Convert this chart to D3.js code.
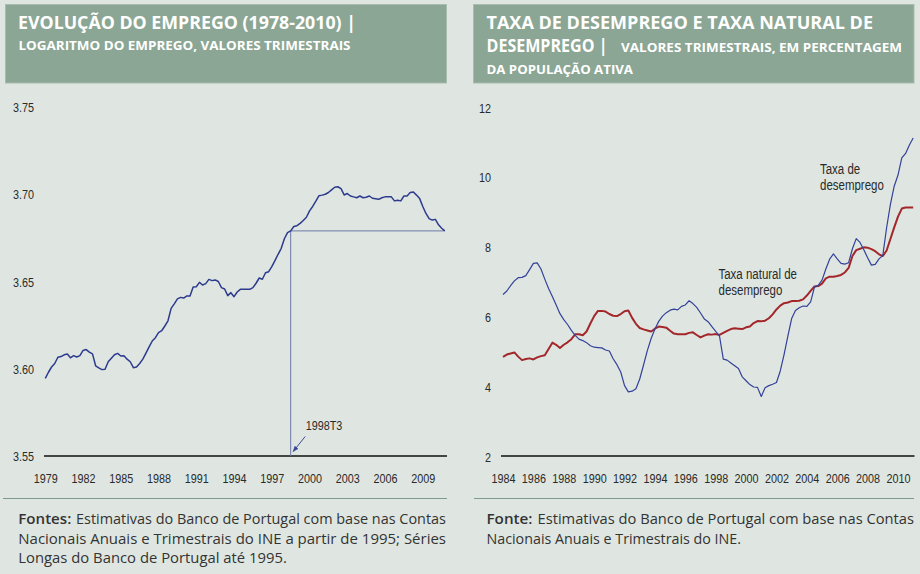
<!DOCTYPE html>
<html>
<head>
<meta charset="utf-8">
<script src="https://cdn.jsdelivr.net/npm/d3@7"></script>
<style>
  html, body { margin: 0; padding: 0; background: #dfe6e1; }
  svg { display: block; }
  .narrow { font-family: "Liberation Sans Narrow", "Arial Narrow", "Liberation Sans", Arial, sans-serif; }
  .hdr { font-family: "Open Sans", "Noto Sans", sans-serif; font-weight: 700; fill: #ffffff; }
  .foot { font-family: "Open Sans", "Noto Sans", sans-serif; fill: #333333; }
</style>
</head>
<body>
<script>
// ---------------- DATA ----------------
// Left chart: log of employment, quarterly, 1979T1 - 2010T4
const empStart = 1979;
const empLog = [
  3.5945, 3.598, 3.601, 3.603,
  3.6066, 3.607, 3.608, 3.6085,
  3.6063, 3.6075, 3.6067, 3.6075,
  3.6105, 3.611, 3.6095, 3.6085,
  3.6017, 3.6005, 3.5995, 3.5997,
  3.604, 3.606, 3.608, 3.6088,
  3.6073, 3.6075, 3.6055, 3.604,
  3.6006, 3.601, 3.603, 3.6055,
  3.609, 3.6125, 3.6159, 3.6178,
  3.6207, 3.6218, 3.6245, 3.6275,
  3.6346, 3.6372, 3.640, 3.6409,
  3.6405, 3.6417, 3.6417, 3.6468,
  3.647, 3.6495, 3.648, 3.6488,
  3.6512, 3.6505, 3.6509, 3.650,
  3.6465, 3.6457, 3.6419, 3.6436,
  3.6413, 3.644, 3.6455, 3.6455,
  3.6455, 3.6455, 3.6465, 3.649,
  3.652, 3.6513, 3.655, 3.6556,
  3.6585, 3.662, 3.6656, 3.669,
  3.6745, 3.678, 3.679, 3.6815,
  3.682, 3.6833, 3.685, 3.6868,
  3.6905, 3.693, 3.696, 3.6992,
  3.6995, 3.700, 3.701, 3.7025,
  3.704, 3.7043, 3.7032, 3.6996,
  3.7004, 3.699, 3.6985, 3.698,
  3.699, 3.698, 3.6983, 3.699,
  3.6977, 3.6974, 3.6971, 3.698,
  3.6985, 3.6986, 3.6985, 3.6962,
  3.6966, 3.6962, 3.699, 3.699,
  3.701, 3.7013, 3.6995, 3.6975,
  3.693, 3.689, 3.686, 3.6852,
  3.6856, 3.6825, 3.6805, 3.679
];
const empBreakYear = 1998.5;       // 1998T3
const empBreakLabel = "1998T3";
const empYTicks = [3.55, 3.60, 3.65, 3.70, 3.75];
const empXTicks = [1979, 1982, 1985, 1988, 1991, 1994, 1997, 2000, 2003, 2006, 2009];

// Right chart: unemployment rate and natural rate, quarterly, 1984T1 - 2011T1
const urStart = 1984;
const unempRate = [
  6.64, 6.74, 6.89, 7.03,
  7.12, 7.13, 7.18, 7.35,
  7.53, 7.545, 7.37, 7.08,
  6.81, 6.58, 6.34, 6.09,
  5.92, 5.78, 5.61, 5.47,
  5.36, 5.32, 5.26, 5.17,
  5.13, 5.12, 5.11, 5.05,
  5.02, 4.80, 4.63, 4.42,
  4.03, 3.85, 3.87, 3.94,
  4.22, 4.62, 5.03, 5.38,
  5.65, 5.87, 6.02, 6.12,
  6.19, 6.22, 6.20, 6.30,
  6.34, 6.46, 6.38, 6.27,
  6.11, 5.94, 5.86, 5.72,
  5.58, 5.45, 4.79, 4.76,
  4.68, 4.60, 4.52, 4.28,
  4.17, 4.06, 3.99, 3.98,
  3.72, 3.97, 4.03, 4.07,
  4.12, 4.45, 4.92, 5.45,
  5.95, 6.18, 6.26, 6.31,
  6.30, 6.43, 6.85, 6.90,
  7.05, 7.37, 7.65, 7.80,
  7.66, 7.53, 7.51, 7.55,
  7.95, 8.24, 8.13, 7.92,
  7.69, 7.48, 7.50, 7.66,
  7.76, 8.55, 9.22, 9.74,
  10.06, 10.55, 10.68, 10.92,
  11.12
];
const naturalRate = [
  4.855, 4.92, 4.95, 4.98,
  4.86, 4.76, 4.79, 4.81,
  4.78, 4.84, 4.875, 4.90,
  5.08, 5.26, 5.20, 5.11,
  5.20, 5.27, 5.36, 5.50,
  5.50, 5.47, 5.58, 5.81,
  6.02, 6.17, 6.17, 6.15,
  6.08, 6.03, 6.02, 6.08,
  6.16, 6.18, 5.97, 5.80,
  5.68, 5.64, 5.61, 5.58,
  5.66, 5.72, 5.71, 5.69,
  5.60, 5.52, 5.50, 5.50,
  5.50, 5.54, 5.555, 5.48,
  5.41, 5.46, 5.50, 5.49,
  5.505, 5.48, 5.54, 5.60,
  5.65, 5.67, 5.66, 5.65,
  5.70, 5.72, 5.82, 5.88,
  5.87, 5.89, 5.96, 6.07,
  6.21, 6.32, 6.39, 6.41,
  6.45, 6.45, 6.46, 6.50,
  6.61, 6.74, 6.87, 6.88,
  6.95, 7.10, 7.15, 7.15,
  7.17, 7.20, 7.27, 7.40,
  7.74, 7.91, 7.95, 7.99,
  7.98, 7.94, 7.88, 7.79,
  7.74, 7.90, 8.23, 8.56,
  8.87, 9.10, 9.13, 9.13,
  9.13
];
const urYTicks = [2, 4, 6, 8, 10, 12];
const urXTicks = [1984, 1986, 1988, 1990, 1992, 1994, 1996, 1998, 2000, 2002, 2004, 2006, 2008, 2010];
const labelUnemp = ["Taxa de", "desemprego"];
const labelNatural = ["Taxa natural de", "desemprego"];

// ---------------- DRAW ----------------
const W = 920, H = 574;
const svg = d3.select("body").append("svg").attr("width", W).attr("height", H);
svg.append("rect").attr("width", W).attr("height", H).attr("fill", "#dfe6e1");

const HEADER_FILL = "#8ba694";
const GREEN_TXT = "#4e7a5b";
const NARROW = 0.8;
const TXT = "#2a2a2a";

function fitText(sel, len) {
  sel.attr("textLength", len).attr("lengthAdjust", "spacingAndGlyphs");
  return sel;
}
// condense text horizontally (narrow font look)
function condense(sel, factor) {
  sel.each(function () {
    const L = this.getComputedTextLength();
    d3.select(this).attr("textLength", L * factor).attr("lengthAdjust", "spacingAndGlyphs");
  });
  return sel;
}

// Headers
svg.append("rect").attr("x", 5.5).attr("y", 4.5).attr("width", 441).attr("height", 78.5)
  .attr("fill", HEADER_FILL).attr("stroke", "#a7bcad").attr("stroke-width", 1);
svg.append("rect").attr("x", 473.5).attr("y", 4.5).attr("width", 440.5).attr("height", 78.5)
  .attr("fill", HEADER_FILL).attr("stroke", "#a7bcad").attr("stroke-width", 1);

fitText(svg.append("text").attr("class", "hdr").attr("x", 18).attr("y", 28.5)
  .attr("font-size", 18).text("EVOLUÇÃO DO EMPREGO (1978-2010) |"), 338);
fitText(svg.append("text").attr("class", "hdr").attr("x", 18.5).attr("y", 50)
  .attr("font-size", 12).text("LOGARITMO DO EMPREGO, VALORES TRIMESTRAIS"), 332);

fitText(svg.append("text").attr("class", "hdr").attr("x", 486.5).attr("y", 28.5)
  .attr("font-size", 18).text("TAXA DE DESEMPREGO E TAXA NATURAL DE"), 386.5);
fitText(svg.append("text").attr("class", "hdr").attr("x", 486.5).attr("y", 51.5)
  .attr("font-size", 18).text("DESEMPREGO |"), 121);
fitText(svg.append("text").attr("class", "hdr").attr("x", 621).attr("y", 51.5)
  .attr("font-size", 12).text("VALORES TRIMESTRAIS, EM PERCENTAGEM"), 281);
fitText(svg.append("text").attr("class", "hdr").attr("x", 486.5).attr("y", 73.5)
  .attr("font-size", 12).text("DA POPULAÇÃO ATIVA"), 146.5);

// ---------- Left chart ----------
const xL = d3.scaleLinear().domain([1979, 2009]).range([45.3, 422.8]);
const yL = d3.scaleLinear().domain([3.55, 3.75]).range([456, 107]);
const empData = empLog.map((v, i) => ({ t: empStart + i / 4, v }));

// y labels
svg.append("g").attr("transform", "translate(34,0)")
  .call(d3.axisLeft(yL).tickValues(empYTicks).tickFormat(d3.format(".2f")).tickSize(0).tickPadding(0))
  .call(g => g.select(".domain").remove())
  .call(g => condense(g.selectAll("text").attr("class", "narrow").attr("font-size", 13.5).attr("fill", TXT).attr("dy", "0.35em"), NARROW));

// x labels
svg.append("g").attr("transform", "translate(0,456)")
  .call(d3.axisBottom(xL).tickValues(empXTicks).tickFormat(d3.format("d")).tickSize(0).tickPadding(0))
  .call(g => g.select(".domain").remove())
  .call(g => condense(g.selectAll("text").attr("class", "narrow").attr("font-size", 13.5).attr("fill", TXT).attr("dy", null).attr("y", 26.5), NARROW));

// baseline
svg.append("line").attr("x1", 44).attr("x2", 447).attr("y1", yL(3.55)).attr("y2", yL(3.55))
  .attr("stroke", "#111").attr("stroke-width", 1.4);

// reference lines at 1998T3
const breakVal = empData.find(d => Math.abs(d.t - empBreakYear) < 1e-6).v;
const lastT = empData[empData.length - 1].t;
svg.append("line").attr("x1", xL(empBreakYear)).attr("x2", xL(lastT))
  .attr("y1", yL(breakVal)).attr("y2", yL(breakVal))
  .attr("stroke", "#6d78a6").attr("stroke-width", 1);
svg.append("line").attr("x1", xL(empBreakYear)).attr("x2", xL(empBreakYear))
  .attr("y1", yL(breakVal)).attr("y2", yL(3.55))
  .attr("stroke", "#6d78a6").attr("stroke-width", 1);

// employment line
svg.append("path").datum(empData)
  .attr("d", d3.line().x(d => xL(d.t)).y(d => yL(d.v)))
  .attr("fill", "none").attr("stroke", "#2d3a8e").attr("stroke-width", 1.5).attr("stroke-linejoin", "round");

// annotation 1998T3
const ax = xL(empBreakYear);
condense(svg.append("text").attr("class", "narrow").attr("x", ax + 15).attr("y", 429.5)
  .attr("font-size", 13.5).attr("fill", TXT).text(empBreakLabel), NARROW);
const defs = svg.append("defs");
defs.append("marker").attr("id", "arr").attr("viewBox", "0 0 10 10").attr("refX", 9).attr("refY", 5)
  .attr("markerWidth", 6).attr("markerHeight", 6).attr("orient", "auto")
  .append("path").attr("d", "M0,1 L10,5 L0,9 z").attr("fill", "#3a4a9a");
svg.append("line").attr("x1", ax + 14.5).attr("y1", 436.5).attr("x2", ax + 2.5).attr("y2", 451.5)
  .attr("stroke", "#3a4a9a").attr("stroke-width", 1).attr("marker-end", "url(#arr)");

// ---------- Right chart ----------
const xR = d3.scaleLinear().domain([1984, 2010]).range([503, 898]);
const yR = d3.scaleLinear().domain([2, 12]).range([456.5, 107.3]);
const urData = unempRate.map((v, i) => ({ t: urStart + i / 4, v }));
const nrData = naturalRate.map((v, i) => ({ t: urStart + i / 4, v }));

svg.append("g").attr("transform", "translate(491,0)")
  .call(d3.axisLeft(yR).tickValues(urYTicks).tickFormat(d3.format("d")).tickSize(0).tickPadding(0))
  .call(g => g.select(".domain").remove())
  .call(g => condense(g.selectAll("text").attr("class", "narrow").attr("font-size", 13.5).attr("fill", TXT).attr("dy", "0.35em"), NARROW));

svg.append("g").attr("transform", "translate(0,456)")
  .call(d3.axisBottom(xR).tickValues(urXTicks).tickFormat(d3.format("d")).tickSize(0).tickPadding(0))
  .call(g => g.select(".domain").remove())
  .call(g => condense(g.selectAll("text").attr("class", "narrow").attr("font-size", 13.5).attr("fill", TXT).attr("dy", null).attr("y", 26.5), NARROW));

svg.append("line").attr("x1", 501).attr("x2", 914.5).attr("y1", 456).attr("y2", 456)
  .attr("stroke", "#111").attr("stroke-width", 1.4);

const lineR = d3.line().x(d => xR(d.t)).y(d => yR(d.v));
svg.append("path").datum(nrData).attr("d", lineR)
  .attr("fill", "none").attr("stroke", "#a3262b").attr("stroke-width", 2).attr("stroke-linejoin", "round");
svg.append("path").datum(urData).attr("d", lineR)
  .attr("fill", "none").attr("stroke", "#34419a").attr("stroke-width", 1.2).attr("stroke-linejoin", "round");

// series labels
labelUnemp.forEach((s, i) => {
  condense(svg.append("text").attr("class", "narrow").attr("font-size", 14).attr("fill", TXT)
    .attr("x", 820).attr("y", 174 + i * 16).text(s), 0.82);
});
labelNatural.forEach((s, i) => {
  condense(svg.append("text").attr("class", "narrow").attr("font-size", 14).attr("fill", TXT)
    .attr("x", 718.5).attr("y", 279 + i * 16).text(s), 0.82);
});

// ---------- Footers ----------
svg.append("line").attr("x1", 3).attr("x2", 447).attr("y1", 498.5).attr("y2", 498.5)
  .attr("stroke", "#7d9b88").attr("stroke-width", 1);
svg.append("line").attr("x1", 474).attr("x2", 914).attr("y1", 498.5).attr("y2", 498.5)
  .attr("stroke", "#7d9b88").attr("stroke-width", 1);

const FS = 14;
fitText(svg.append("text").attr("class", "foot").attr("x", 18.3).attr("y", 524)
  .attr("font-size", FS).attr("font-weight", 600).attr("fill", GREEN_TXT).text("Fontes:"), 53);
fitText(svg.append("text").attr("class", "foot").attr("x", 76).attr("y", 524)
  .attr("font-size", FS).text("Estimativas do Banco de Portugal com base nas Contas"), 370);
fitText(svg.append("text").attr("class", "foot").attr("x", 18.3).attr("y", 543.8)
  .attr("font-size", FS).text("Nacionais Anuais e Trimestrais do INE a partir de 1995; Séries"), 427.7);
fitText(svg.append("text").attr("class", "foot").attr("x", 18.3).attr("y", 563.4)
  .attr("font-size", FS).text("Longas do Banco de Portugal até 1995."), 268.5);

fitText(svg.append("text").attr("class", "foot").attr("x", 486.5).attr("y", 524)
  .attr("font-size", FS).attr("font-weight", 600).attr("fill", GREEN_TXT).text("Fonte:"), 46);
fitText(svg.append("text").attr("class", "foot").attr("x", 537.5).attr("y", 524)
  .attr("font-size", FS).text("Estimativas do Banco de Portugal com base nas Contas"), 376.5);
fitText(svg.append("text").attr("class", "foot").attr("x", 486.5).attr("y", 543.8)
  .attr("font-size", FS).text("Nacionais Anuais e Trimestrais do INE."), 254.5);
</script>
</body>
</html>
